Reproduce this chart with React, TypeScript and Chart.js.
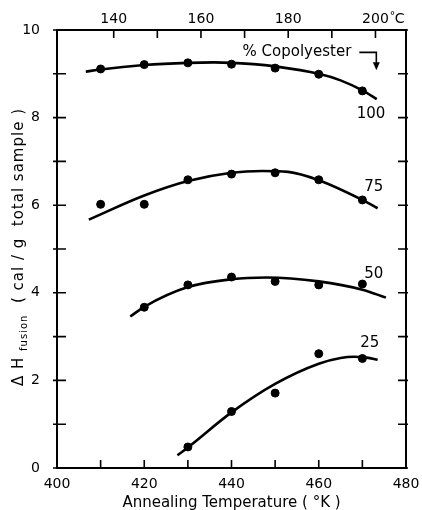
import React, { useEffect, useRef } from "react";
import { Chart, registerables } from "chart.js";

Chart.register(...registerables);

// Measured points (Annealing temperature K, ΔH fusion)
const tempsK = [410, 420, 430, 440, 450, 460, 470];
const pts100 = [9.11, 9.21, 9.25, 9.22, 9.13, 8.99, 8.61];
const pts75 = [6.02, 6.02, 6.58, 6.71, 6.74, 6.58, 6.12];
const temps50 = [420, 430, 440, 450, 460, 470];
const pts50 = [3.67, 4.18, 4.36, 4.26, 4.18, 4.2];
const temps25 = [430, 440, 450, 460, 470];
const pts25 = [0.48, 1.29, 1.71, 2.61, 2.5];

// Smooth fitted curves
const curve100X = [406.6, 410, 420, 430, 436, 445, 450, 460, 465, 470, 473.3];
const curve100Y = [9.05, 9.1, 9.2, 9.25, 9.26, 9.22, 9.17, 9.0, 8.85, 8.62, 8.42];
const curve75X = [407.3, 420, 430, 440, 447, 453, 460, 470, 473.5];
const curve75Y = [5.67, 6.22, 6.55, 6.74, 6.78, 6.76, 6.57, 6.12, 5.93];
const curve50X = [416.8, 420, 430, 440, 448, 460, 470, 475.4];
const curve50Y = [3.46, 3.68, 4.13, 4.31, 4.35, 4.26, 4.07, 3.89];
const curve25X = [427.6, 430, 440, 450, 460, 465, 468, 471, 473.5];
const curve25Y = [0.29, 0.47, 1.27, 1.92, 2.38, 2.51, 2.54, 2.52, 2.47];

const seriesLabels = ["100", "75", "50", "25"];
const labelPosX = [472.0, 472.6, 472.6, 471.7];
const labelPosY = [8.09, 6.41, 4.43, 2.84];

const xTicksK = [400, 420, 440, 460, 480];
const topTicksC = [140, 160, 180, 200];
const K_OFFSET = 273;

const FONT = "'DejaVu Sans', sans-serif";

const zip = (xs: number[], ys: number[]) => xs.map((x, i) => ({ x, y: ys[i] }));

export default function App() {
  const ref = useRef<HTMLCanvasElement | null>(null);
  useEffect(() => {
    if (!ref.current) return;
    const curveDs = (xs: number[], ys: number[]) => ({
      type: "line" as const,
      data: zip(xs, ys),
      borderColor: "#000",
      borderWidth: 2.6,
      pointRadius: 0,
      showLine: true,
      cubicInterpolationMode: "monotone",
      fill: false,
    });
    const ptDs = (xs: number[], ys: number[]) => ({
      type: "scatter" as const,
      data: zip(xs, ys),
      backgroundColor: "#000",
      borderColor: "#000",
      pointRadius: 4,
      showLine: false,
    });

    const decor = {
      id: "decor",
      afterDraw(chart: any) {
        const ctx = chart.ctx;
        const a = chart.chartArea;
        const sx = chart.scales.x;
        const sy = chart.scales.y;
        ctx.save();
        ctx.strokeStyle = "#000";
        ctx.fillStyle = "#000";
        ctx.lineWidth = 2;
        ctx.strokeRect(a.left, a.top, a.right - a.left, a.bottom - a.top);
        ctx.lineWidth = 1.6;
        ctx.beginPath();
        for (let k = 400; k <= 480; k += 10) {
          const px = sx.getPixelForValue(k);
          ctx.moveTo(px, a.bottom);
          ctx.lineTo(px, a.bottom - 8);
        }
        for (let c = 140; c <= 200; c += 10) {
          const px = sx.getPixelForValue(c + K_OFFSET);
          ctx.moveTo(px, a.top);
          ctx.lineTo(px, a.top + 8);
        }
        for (let v = 0; v <= 10; v += 1) {
          const py = sy.getPixelForValue(v);
          ctx.moveTo(a.left - 4, py);
          ctx.lineTo(a.left + 9, py);
          ctx.moveTo(a.right - 8, py);
          ctx.lineTo(a.right + 2, py);
        }
        ctx.stroke();

        // top axis labels
        ctx.font = `14px ${FONT}`;
        ctx.textAlign = "center";
        ctx.textBaseline = "middle";
        topTicksC.forEach((c) => {
          const px = sx.getPixelForValue(c + K_OFFSET);
          ctx.fillText(String(c), px, 19);
          if (c === 200) {
            const w = ctx.measureText(String(c)).width;
            ctx.textAlign = "left";
            ctx.font = `11px ${FONT}`;
            ctx.fillText("°", px + w / 2 + 1, 16);
            ctx.font = `14px ${FONT}`;
            ctx.fillText("C", px + w / 2 + 6, 19);
            ctx.textAlign = "center";
          }
        });

        // series labels
        ctx.font = `15px ${FONT}`;
        seriesLabels.forEach((l, i) => {
          ctx.fillText(l, sx.getPixelForValue(labelPosX[i]), sy.getPixelForValue(labelPosY[i]));
        });

        // % Copolyester with arrow
        ctx.font = `15px ${FONT}`;
        ctx.textAlign = "center";
        ctx.fillText("% Copolyester", sx.getPixelForValue(455.0), sy.getPixelForValue(9.49));
        const ay = sy.getPixelForValue(9.49);
        const ax1 = sx.getPixelForValue(469.3);
        const ax2 = sx.getPixelForValue(473.2);
        ctx.lineWidth = 1.6;
        ctx.beginPath();
        ctx.moveTo(ax1, ay);
        ctx.lineTo(ax2, ay);
        ctx.lineTo(ax2, ay + 12);
        ctx.stroke();
        ctx.beginPath();
        ctx.moveTo(ax2 - 3.5, ay + 10);
        ctx.lineTo(ax2 + 3.5, ay + 10);
        ctx.lineTo(ax2, ay + 18);
        ctx.closePath();
        ctx.fill();

        // y title with subscript
        const cy = 247;
        ctx.translate(18, cy);
        ctx.rotate(-Math.PI / 2);
        const big = `15px ${FONT}`;
        const small = `10px ${FONT}`;
        const p1 = "Δ H";
        const p2 = "fusion";
        const p3 = "  ( cal / g  total sample )";
        (ctx as any).letterSpacing = "1px";
        ctx.font = big;
        const w1 = ctx.measureText(p1 + " ").width;
        const w3 = ctx.measureText(p3).width;
        ctx.font = small;
        const w2 = ctx.measureText(p2).width;
        const total = w1 + w2 + w3;
        let x0 = -total / 2;
        ctx.textAlign = "left";
        ctx.textBaseline = "alphabetic";
        ctx.font = big;
        ctx.fillText(p1, x0, 5);
        x0 += w1;
        ctx.font = small;
        ctx.fillText(p2, x0, 9);
        x0 += w2;
        ctx.font = big;
        ctx.fillText(p3, x0, 5);
        ctx.restore();
      },
    };

    const chart = new Chart(ref.current, {
      type: "scatter",
      data: {
        datasets: [
          curveDs(curve100X, curve100Y),
          curveDs(curve75X, curve75Y),
          curveDs(curve50X, curve50Y),
          curveDs(curve25X, curve25Y),
          ptDs(tempsK, pts100),
          ptDs(tempsK, pts75),
          ptDs(temps50, pts50),
          ptDs(temps25, pts25),
        ] as any,
      },
      options: {
        animation: false,
        responsive: true,
        maintainAspectRatio: false,
        layout: { padding: 0 },
        plugins: { legend: { display: false }, tooltip: { enabled: false } },
        scales: {
          x: {
            type: "linear",
            position: "bottom",
            min: 400,
            max: 480,
            afterBuildTicks: (s: any) => {
              s.ticks = xTicksK.map((v) => ({ value: v }));
            },
            ticks: { color: "#000", font: { size: 14, family: FONT }, padding: 0, maxRotation: 0 },
            grid: { display: false },
            border: { display: false },
            title: {
              display: true,
              text: "Annealing Temperature ( °K )",
              color: "#000",
              font: { size: 15, family: FONT },
              padding: { top: 0, bottom: -2 },
            },
            afterFit: (s: any) => {
              s.height = 42;
            },
          },
          y: {
            type: "linear",
            position: "left",
            min: 0,
            max: 10,
            ticks: { stepSize: 2, color: "#000", font: { size: 14, family: FONT }, padding: 9 },
            grid: { display: false },
            border: { display: false },
            afterFit: (s: any) => {
              s.width = 57;
            },
          },
          yR: {
            type: "linear",
            position: "right",
            min: 0,
            max: 10,
            ticks: { display: false },
            grid: { display: false },
            border: { display: false },
            afterFit: (s: any) => {
              s.width = 16;
            },
          },
          xT: {
            type: "linear",
            position: "top",
            min: 400 - K_OFFSET,
            max: 480 - K_OFFSET,
            ticks: { display: false },
            grid: { display: false },
            border: { display: false },
            afterFit: (s: any) => {
              s.height = 30;
            },
          },
        },
      } as any,
      plugins: [decor],
    });
    return () => chart.destroy();
  }, []);
  return (
    <div style={{ position: "fixed", left: 0, top: 0, width: 422, height: 510, background: "#fff" }}>
      <canvas ref={ref} />
    </div>
  );
}
